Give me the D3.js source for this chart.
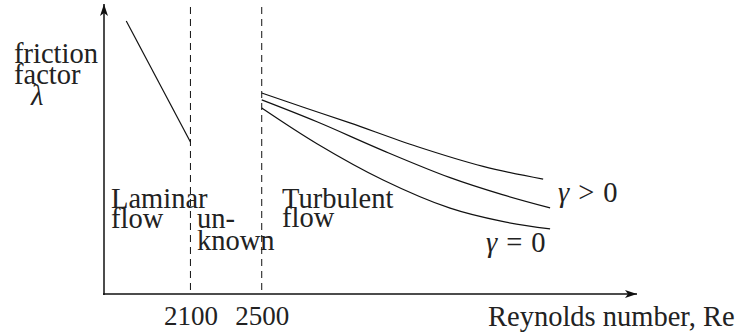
<!DOCTYPE html>
<html lang="en">
<head>
    <meta charset="utf-8">
    <title>Friction factor vs Reynolds number</title>
    <script src="https://cdn.jsdelivr.net/npm/d3@7"></script>
    <style>
        body { margin: 0; background: #fff; }
    </style>
</head>
<body>
<svg width="741" height="333"></svg>
<script>
    var SERIF = "Liberation Serif";

    // schematic values (lambda in arbitrary units)
    var tickRe = [2100, 2500];
    var laminarRe = [1740, 2100];
    var laminarLam = [0.948, 0.528];
    var reTop = [2500, 2750, 2995, 3371, 3742, 4079];
    var lamTop = [0.698, 0.645, 0.594, 0.512, 0.443, 0.399];
    var reMid = [2500, 2810, 3181, 3557, 3850, 4118];
    var lamMid = [0.674, 0.598, 0.498, 0.404, 0.345, 0.299];
    var reLow = [2500, 2810, 3181, 3557, 3850, 4118];
    var lamLow = [0.646, 0.522, 0.396, 0.298, 0.252, 0.226];

    var svg = d3.select("svg");
    var x = d3.scaleLinear().domain([1615, 4600]).range([104, 636]);
    var y = d3.scaleLinear().domain([0, 1]).range([294, 6]);

    var defs = svg.append("defs");
    defs.append("marker")
        .attr("id", "arrow")
        .attr("viewBox", "0 0 12 8")
        .attr("refX", 12).attr("refY", 4)
        .attr("markerWidth", 12).attr("markerHeight", 8)
        .attr("markerUnits", "userSpaceOnUse")
        .attr("orient", "auto")
        .append("path").attr("d", "M0,0 L12,4 L0,8 L3,4 Z").attr("fill", "#111");

    // tick labels through the axis
    var xAxis = svg.append("g")
        .attr("transform", "translate(0,294)")
        .call(d3.axisBottom(x).tickValues(tickRe).tickSize(0).tickSizeOuter(0).tickFormat(d3.format("d")));
    xAxis.select(".domain").remove();
    xAxis.selectAll("text")
        .style("font-family", SERIF).style("font-size", "27px")
        .attr("dy", null).attr("y", 31).attr("fill", "#222");

    svg.append("line")
        .attr("x1", 103).attr("y1", 294).attr("x2", 637).attr("y2", 294)
        .attr("stroke", "#111").attr("stroke-width", 1.5)
        .attr("marker-end", "url(#arrow)");
    svg.append("line")
        .attr("x1", 104).attr("y1", 295).attr("x2", 104).attr("y2", 4)
        .attr("stroke", "#111").attr("stroke-width", 1.5)
        .attr("marker-end", "url(#arrow)");

    // region boundaries
    svg.selectAll("line.bound")
        .data(tickRe)
        .enter().append("line")
        .attr("class", "bound")
        .attr("x1", function(d) { return x(d); })
        .attr("x2", function(d) { return x(d); })
        .attr("y1", 7).attr("y2", 294)
        .attr("stroke", "#111").attr("stroke-width", 1)
        .attr("stroke-dasharray", "7,5");

    var line = d3.line()
        .x(function(d) { return x(d[0]); })
        .y(function(d) { return y(d[1]); });
    var curve = d3.line()
        .curve(d3.curveCatmullRom)
        .x(function(d) { return x(d[0]); })
        .y(function(d) { return y(d[1]); });

    svg.append("path")
        .attr("d", line(d3.zip(laminarRe, laminarLam)))
        .attr("fill", "none").attr("stroke", "#111").attr("stroke-width", 1.2);

    [[reTop, lamTop], [reMid, lamMid], [reLow, lamLow]].forEach(function(s) {
        svg.append("path")
            .attr("d", curve(d3.zip(s[0], s[1])))
            .attr("fill", "none").attr("stroke", "#111").attr("stroke-width", 1.2);
    });

    // labels
    function label(txt, px, py) {
        return svg.append("text")
            .attr("x", px).attr("y", py)
            .style("font-family", SERIF).style("font-size", "28.5px")
            .attr("fill", "#222")
            .text(txt);
    }
    label("friction", 14, 63);
    label("factor", 14, 84);
    label("\u03bb", 31, 105).style("font-style", "italic");
    label("Laminar", 111, 208);
    label("flow", 111, 228);
    label("un-", 197, 228);
    label("known", 197, 250);
    label("Turbulent", 282, 208);
    label("flow", 282, 227);
    label("Reynolds number, Re", 488, 326);

    function mathLabel(rel, px, py) {
        var t = label("", px, py);
        t.append("tspan").style("font-style", "italic").text("\u03b3");
        t.append("tspan").attr("dx", 9).text(rel);
        t.append("tspan").attr("dx", 9).text("0");
        return t;
    }
    mathLabel(">", 558, 202);
    mathLabel("=", 486, 252);
</script>
</body>
</html>
